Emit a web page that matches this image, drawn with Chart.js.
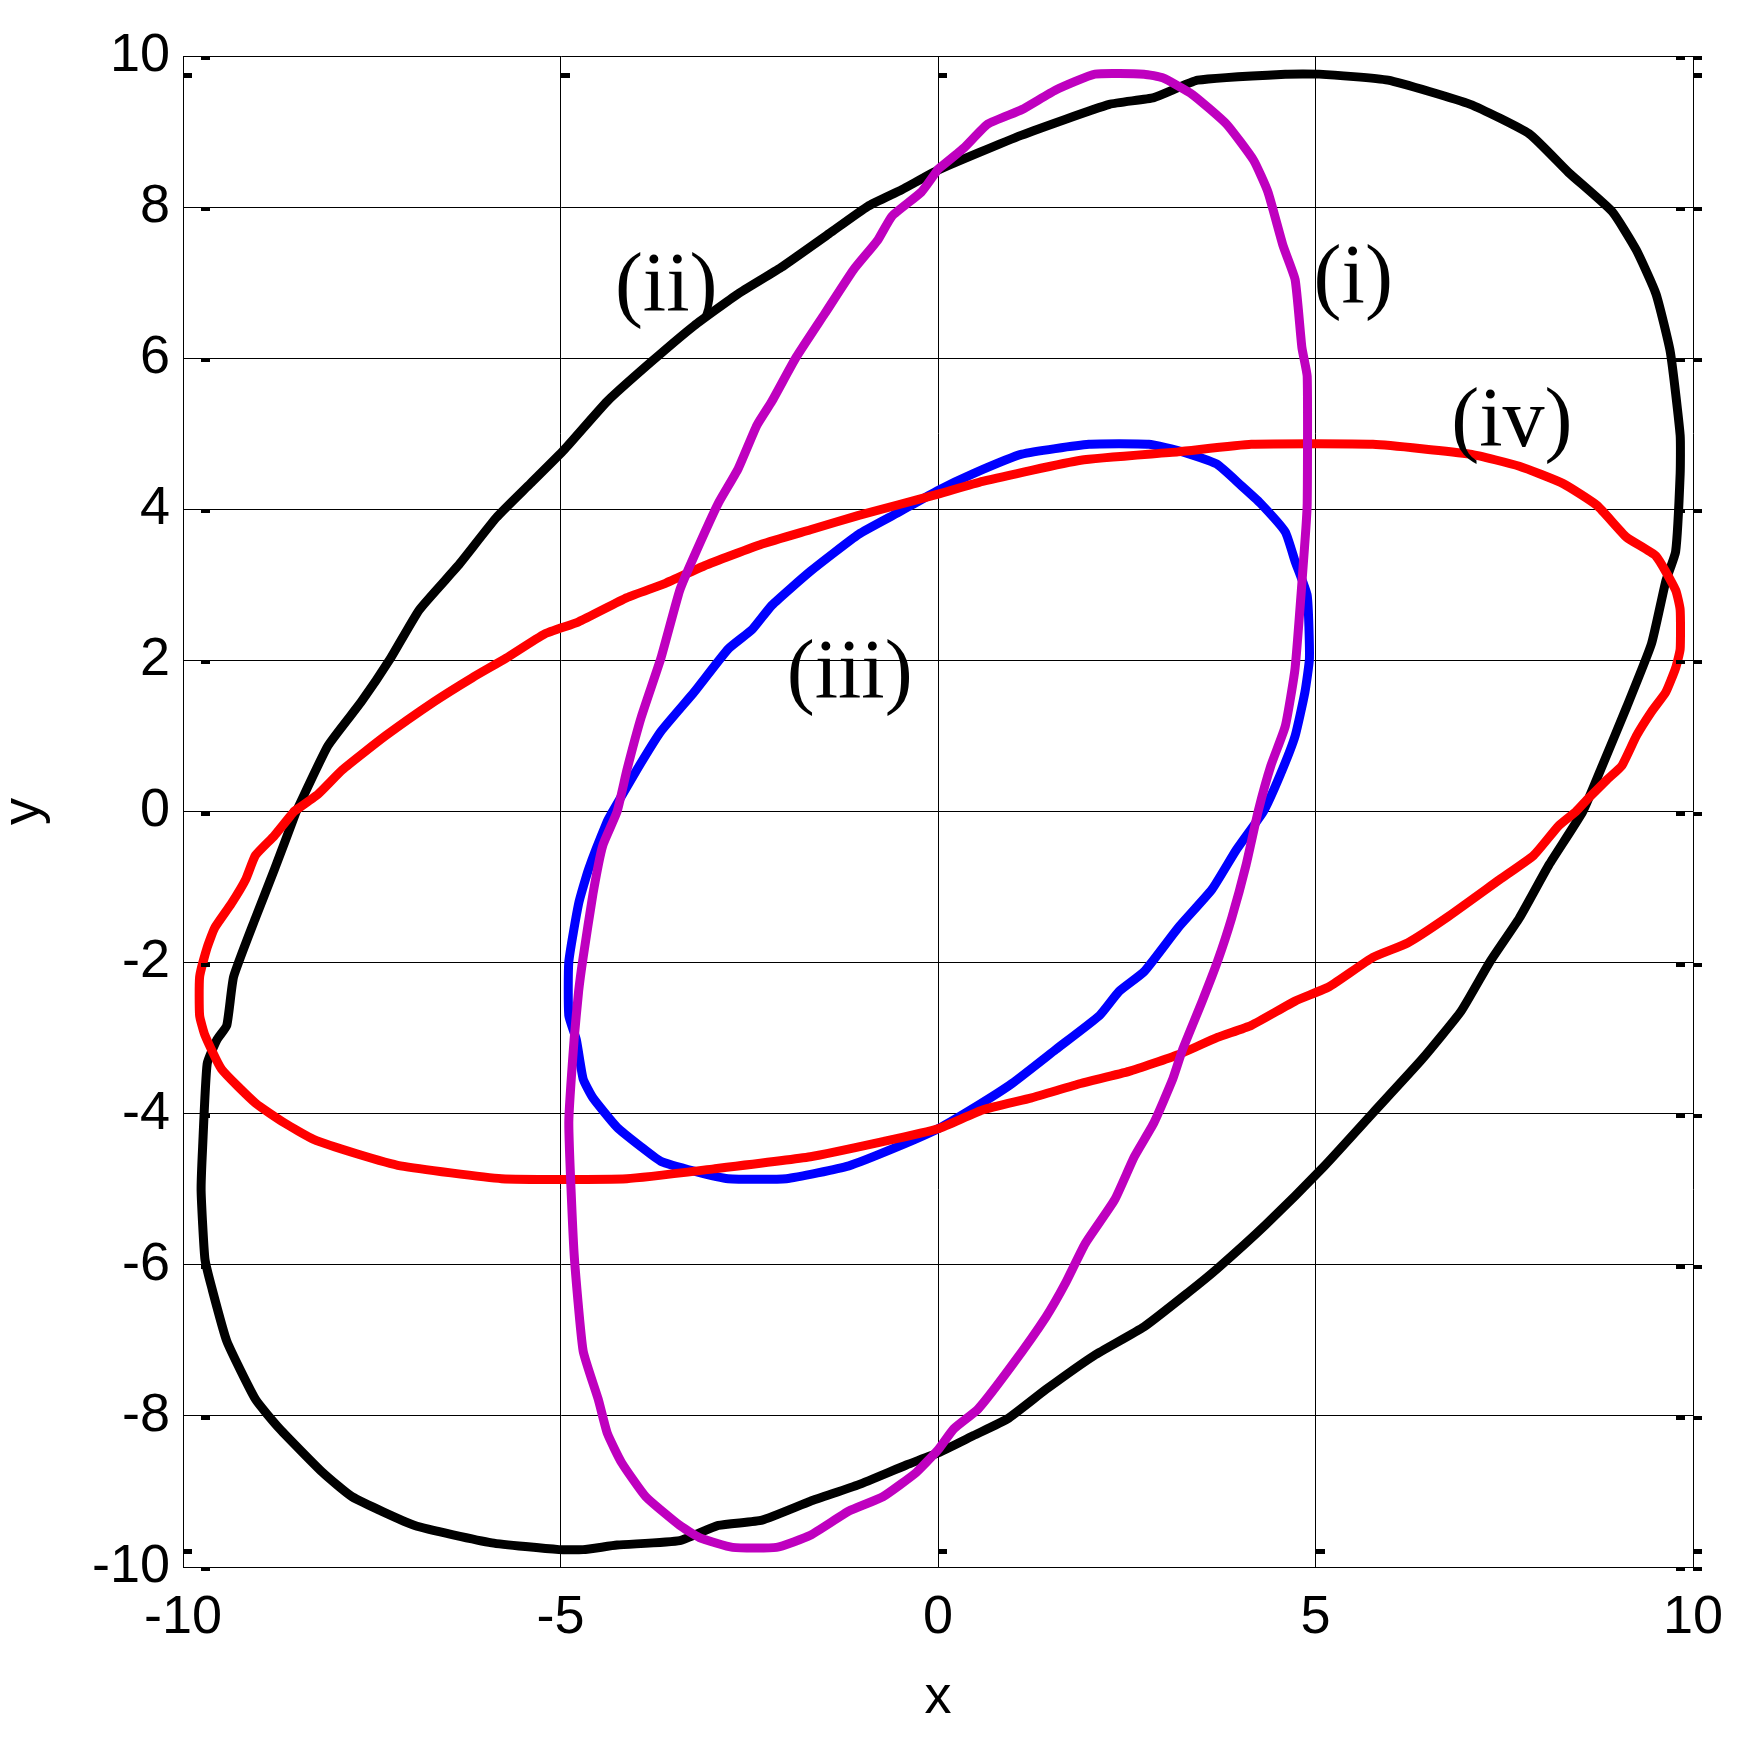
<!DOCTYPE html>
<html>
<head>
<meta charset="utf-8">
<script src="https://cdn.jsdelivr.net/npm/chart.js@4.4.0/dist/chart.umd.min.js"></script>
<style>
  html, body { margin: 0; padding: 0; background: #fff; }
  #wrap { width: 1755px; height: 1746px; }
</style>
</head>
<body>
<div id="wrap"><canvas id="grafico" width="1755" height="1746"></canvas></div>
<script>
// Curva (i) - magenta
const curvaIx = [0, 0.34, 0.66, 1.11, 1.56, 2.08, 2.73, 2.98, 3.37, 3.82, 4.18, 4.37, 4.57, 4.73, 4.82, 4.89, 4.89, 4.86, 4.73, 4.6, 4.41, 4.24,
  4.08, 3.89, 3.7, 3.5, 3.24, 3.11, 2.86, 2.6, 2.34, 1.95, 1.69, 1.43, 0.98, 0.53, 0.21, 0,
  -0.29, -0.73, -1.18, -1.69, -2.14, -2.72, -3.16, -3.42, -3.87, -4.19, -4.38, -4.5, -4.7, -4.82, -4.89, -4.82, -4.76, -4.7, -4.57, -4.44, -4.25,
  -4.12, -3.93, -3.67, -3.42, -3.23, -2.91, -2.65, -2.4, -2.2, -1.88, -1.5, -1.12, -0.8, -0.61, -0.22, 0];
const curvaIy = [8.5, 8.78, 9.1, 9.29, 9.55, 9.76, 9.76, 9.71, 9.49, 9.1, 8.62, 8.2, 7.49, 7.04, 6.14, 5.76, 4.08, 3.57, 1.9, 1.13, 0.61, 0,
  -0.71, -1.41, -1.99, -2.51, -3.15, -3.54, -4.12, -4.57, -5.14, -5.72, -6.24, -6.69, -7.33, -7.91, -8.17, -8.45,
  -8.75, -9.07, -9.26, -9.58, -9.74, -9.74, -9.61, -9.45, -9.07, -8.62, -8.23, -7.78, -7.14, -5.85, -4.12, -3.02, -2.38, -1.93, -1.09, -0.45, 0,
  0.55, 1.25, 2.03, 2.93, 3.38, 4.08, 4.53, 5.11, 5.43, 6.01, 6.59, 7.17, 7.56, 7.88, 8.2, 8.5];

// Curva (ii) - preta
const curvaIIx = [-8.5, -8.08, -7.64, -7.25, -6.87, -6.36, -5.85, -5.4, -4.95, -4.38, -3.8, -3.23, -2.65, -2.08, -1.44, -0.93, -0.48, 0,
  1.1, 2.27, 2.86, 3.44, 4.6, 5.05, 5.96, 7.05, 7.83, 8.35, 8.93, 9.25, 9.51, 9.7, 9.83, 9.83, 9.77, 9.64, 9.45, 9.12, 8.8, 8.54,
  8.09, 7.7, 7.31, 6.93, 6.41, 5.76, 5.12, 4.34, 3.7, 3.31, 2.73, 2.07, 1.43, 0.92, 0.47, 0,
  -0.42, -1.05, -1.69, -2.33, -2.91, -3.42, -4.25, -4.7, -5.02, -5.91, -6.93, -7.76, -8.15, -8.72, -9.04, -9.42, -9.62, -9.71, -9.76, -9.74, -9.68, -9.55, -9.42, -9.33, -9.04, -8.79, -8.5];
const curvaIIy = [0, 0.87, 1.45, 2.03, 2.67, 3.25, 3.89, 4.34, 4.79, 5.43, 5.95, 6.43, 6.85, 7.2, 7.65, 8.01, 8.23, 8.49,
  8.95, 9.36, 9.45, 9.68, 9.76, 9.76, 9.68, 9.36, 8.97, 8.46, 7.94, 7.43, 6.85, 6.08, 4.98, 4.47, 3.44, 3.05, 2.22, 1.38, 0.61, 0,
  -0.71, -1.41, -1.99, -2.64, -3.28, -3.99, -4.69, -5.47, -6.05, -6.37, -6.82, -7.2, -7.65, -8.04, -8.26, -8.49,
  -8.65, -8.91, -9.13, -9.38, -9.45, -9.65, -9.71, -9.77, -9.77, -9.68, -9.45, -9.07, -8.75, -8.17, -7.78, -7.01, -6.3, -5.92, -5.02, -4.44, -3.34, -3.02, -2.83, -2.19, -1.41, -0.77, 0];

// Curva (iii) - azul
const curvaIIIx = [-4.31, -3.99, -3.67, -3.23, -2.78, -2.46, -2.2, -1.69, -1.05, -0.54, 0,
  0.46, 1.11, 2.0, 2.79, 3.24, 3.69, 4.02, 4.27, 4.6, 4.73, 4.89, 4.92, 4.86, 4.73, 4.53, 4.31,
  3.95, 3.63, 3.18, 2.73, 2.4, 2.14, 1.56, 0.98, 0.53, 0,
  -0.54, -1.18, -2.01, -2.78, -3.23, -3.67, -3.93, -4.25, -4.57, -4.7, -4.79, -4.89, -4.89, -4.76, -4.63, -4.38, -4.31];
const curvaIIIy = [0, 0.55, 1.06, 1.58, 2.15, 2.41, 2.73, 3.18, 3.67, 3.95, 4.25,
  4.47, 4.73, 4.86, 4.86, 4.76, 4.6, 4.31, 4.08, 3.7, 3.31, 2.86, 2.03, 1.58, 1.0, 0.48, 0,
  -0.51, -1.03, -1.54, -2.12, -2.38, -2.7, -3.15, -3.6, -3.89, -4.2,
  -4.44, -4.69, -4.86, -4.86, -4.76, -4.63, -4.44, -4.18, -3.79, -3.54, -3.02, -2.7, -1.99, -1.22, -0.77, -0.13, 0];

// Curva (iv) - vermelha
const curvaIVx = [-8.53, -8.21, -7.89, -7.32, -6.68, -6.17, -5.72, -5.21, -4.76, -4.12, -3.61, -3.1, -2.33, -1.69, -1.05, 0,
  0.59, 1.89, 3.18, 4.15, 5.76, 7.05, 7.7, 8.28, 8.73, 9.12, 9.51, 9.77, 9.83, 9.83, 9.77, 9.64, 9.45, 9.25, 9.06, 8.86, 8.6, 8.45,
  8.22, 7.89, 7.44, 6.73, 6.22, 5.76, 5.18, 4.73, 4.15, 3.7, 3.18, 2.53, 1.89, 1.24, 0.59, 0,
  -0.73, -1.69, -2.97, -4.12, -5.78, -7.12, -7.7, -8.27, -8.66, -9.04, -9.49, -9.71, -9.78, -9.78, -9.68, -9.58, -9.36, -9.17, -9.04, -8.79, -8.53];
const curvaIVy = [0, 0.23, 0.55, 1.0, 1.45, 1.77, 2.03, 2.35, 2.51, 2.83, 3.02, 3.25, 3.54, 3.73, 3.92, 4.2,
  4.37, 4.65, 4.76, 4.86, 4.86, 4.73, 4.57, 4.34, 4.05, 3.63, 3.38, 2.93, 2.67, 2.15, 1.9, 1.58, 1.32, 1.0, 0.61, 0.42, 0.16, 0,
  -0.19, -0.58, -0.9, -1.41, -1.74, -1.93, -2.32, -2.51, -2.83, -2.99, -3.22, -3.44, -3.6, -3.79, -3.95, -4.2,
  -4.37, -4.57, -4.73, -4.86, -4.86, -4.69, -4.53, -4.34, -4.12, -3.86, -3.41, -2.96, -2.7, -2.19, -1.8, -1.54, -1.22, -0.9, -0.58, -0.32, 0];

// Rótulos das curvas
const rotulos = ['(i)', '(ii)', '(iii)', '(iv)'];
const rotulosX = [5.5, -3.6, -1.17, 7.6];
const rotulosY = [7.02, 6.92, 1.8, 5.13];

// Ticks dos eixos
const ticksX = [-10, -5, 0, 5, 10];
const ticksY = [-10, -8, -6, -4, -2, 0, 2, 4, 6, 8, 10];

const pontos = (xs, ys) => xs.map((x, i) => ({ x: x, y: ys[i] }));

const fonteEixo = { family: "'Liberation Sans', Arial, sans-serif", size: 54 };

// Marcas de tick internas (estilo MATLAB)
const marcasTick = {
  id: 'marcasTick',
  afterDraw(chart) {
    const { ctx, chartArea: a, scales } = chart;
    ctx.save();
    ctx.fillStyle = '#000';
    ticksY.forEach(v => {
      const py = Math.round(scales.y.getPixelForValue(v));
      ctx.fillRect(a.left + 18, py, 9, 4);
      ctx.fillRect(a.right - 17, py, 9, 4);
      ctx.fillRect(a.right, py, 9, 4);
    });
    ticksX.forEach(v => {
      const px = Math.round(scales.x.getPixelForValue(v));
      ctx.fillRect(px, a.top + 17, 9, 5);
      ctx.fillRect(px, a.bottom - 18, 9, 5);
    });
    ctx.restore();
  }
};

// Rótulos (i)...(iv) em fonte serifada
const textoRotulos = {
  id: 'textoRotulos',
  afterDatasetsDraw(chart) {
    const { ctx, scales } = chart;
    ctx.save();
    ctx.fillStyle = '#000';
    ctx.font = "84px 'Liberation Serif', 'Times New Roman', serif";
    ctx.textAlign = 'center';
    ctx.textBaseline = 'middle';
    rotulos.forEach((t, i) => {
      ctx.fillText(t, scales.x.getPixelForValue(rotulosX[i]), scales.y.getPixelForValue(rotulosY[i]));
    });
    ctx.restore();
  }
};

const estiloLinha = { showLine: true, pointRadius: 0, borderWidth: 9, tension: 0.15, fill: false, borderJoinStyle: 'round', borderCapStyle: 'round' };

const ctx = document.getElementById('grafico').getContext('2d');
new Chart(ctx, {
  type: 'scatter',
  data: {
    datasets: [
      { label: '(i)', data: pontos(curvaIx, curvaIy), borderColor: '#BF00BF', ...estiloLinha },
      { label: '(iv)', data: pontos(curvaIVx, curvaIVy), borderColor: '#FF0000', ...estiloLinha },
      { label: '(iii)', data: pontos(curvaIIIx, curvaIIIy), borderColor: '#0000FF', ...estiloLinha },
      { label: '(ii)', data: pontos(curvaIIx, curvaIIy), borderColor: '#000000', ...estiloLinha }
    ]
  },
  options: {
    responsive: false,
    animation: false,
    devicePixelRatio: 1,
    layout: { padding: { top: 56, right: 62, left: 0, bottom: 0 } },
    plugins: { legend: { display: false }, tooltip: { enabled: false } },
    scales: {
      x: {
        type: 'linear', min: -10, max: 10,
        afterBuildTicks: s => { s.ticks = ticksX.map(v => ({ value: v })); },
        afterFit: s => { s.height = 179; },
        ticks: { padding: 19, color: '#000', font: fonteEixo },
        grid: { color: '#000', lineWidth: 1, drawTicks: false },
        border: { color: '#000', width: 1 },
        title: { display: true, text: 'x', color: '#000', font: { ...fonteEixo, lineHeight: 1.2 }, padding: { top: 0, bottom: 15 } }
      },
      y: {
        type: 'linear', min: -10, max: 10,
        afterBuildTicks: s => { s.ticks = ticksY.map(v => ({ value: v })); },
        afterFit: s => { s.width = 183; },
        ticks: { padding: 13, color: '#000', font: fonteEixo },
        grid: { color: '#000', lineWidth: 1, drawTicks: false },
        border: { color: '#000', width: 1 },
        title: { display: true, text: 'y', color: '#000', font: { ...fonteEixo, lineHeight: 0.9 }, padding: 0 }
      }
    }
  },
  plugins: [textoRotulos, marcasTick]
});
</script>
</body>
</html>
